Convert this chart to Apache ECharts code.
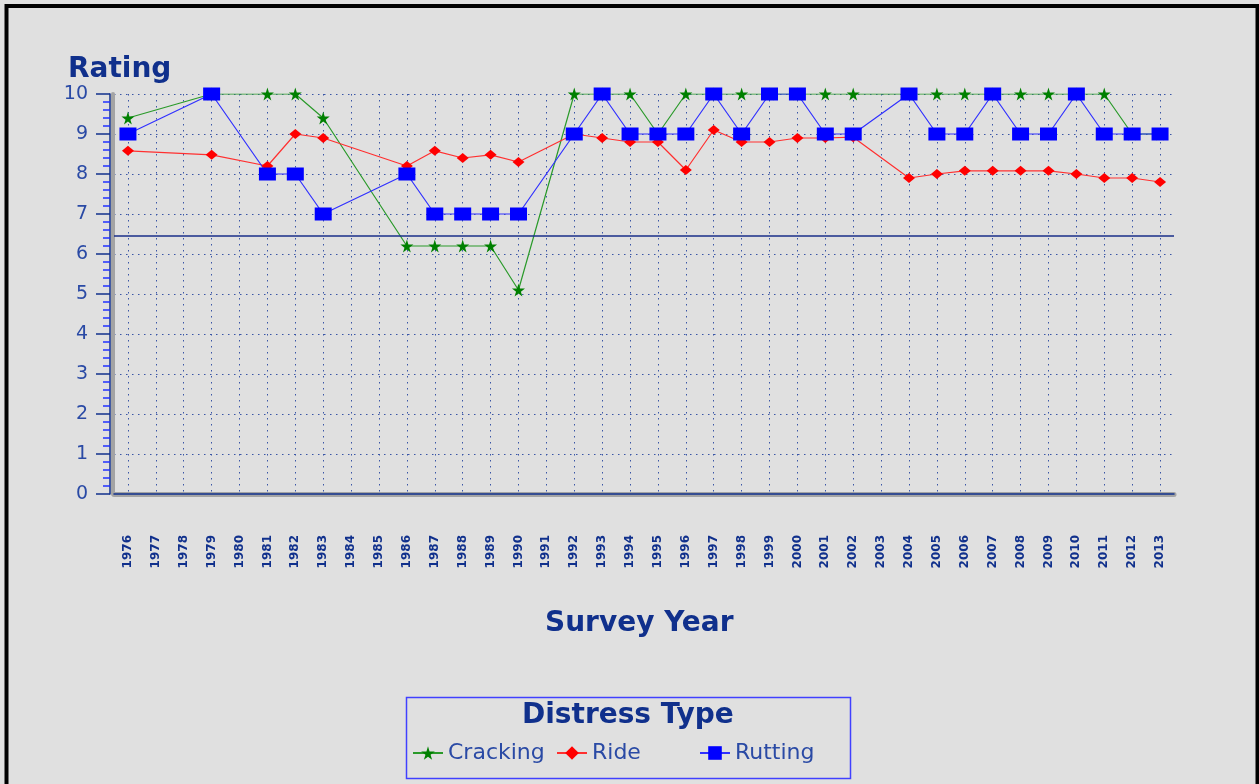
<!DOCTYPE html>
<html>
<head>
<meta charset="utf-8">
<script src="https://cdn.jsdelivr.net/npm/echarts@6/dist/echarts.min.js"></script>
<style>
  html, body { margin: 0; padding: 0; background: #e0e0e0; }
  #chart { width: 1259px; height: 784px; }
</style>
</head>
<body>
<div id="chart"></div>
<script>
// survey years on the x axis
var years = ['1976', '1977', '1978', '1979', '1980', '1981', '1982', '1983', '1984', '1985',
  '1986', '1987', '1988', '1989', '1990', '1991', '1992', '1993', '1994', '1995',
  '1996', '1997', '1998', '1999', '2000', '2001', '2002', '2003', '2004', '2005',
  '2006', '2007', '2008', '2009', '2010', '2011', '2012', '2013'];

// ratings per year, null = no survey that year
var cracking = [9.4, null, null, 10, null, 10, 10, 9.4, null, null,
  6.2, 6.2, 6.2, 6.2, 5.1, null, 10, 10, 10, 9,
  10, 10, 10, 10, 10, 10, 10, null, 10, 10,
  10, 10, 10, 10, 10, 10, 9, 9];
var ride = [8.58, null, null, 8.48, null, 8.2, 9.0, 8.9, null, null,
  8.2, 8.58, 8.4, 8.48, 8.3, null, 9.0, 8.9, 8.8, 8.8,
  8.1, 9.1, 8.8, 8.8, 8.9, 8.9, 8.92, null, 7.9, 8.0,
  8.08, 8.08, 8.08, 8.08, 8.0, 7.9, 7.9, 7.8];
var rutting = [9, null, null, 10, null, 8, 8, 7, null, null,
  8, 7, 7, 7, 7, null, 9, 10, 9, 9,
  9, 10, 9, 10, 10, 9, 9, null, 10, 9,
  9, 10, 9, 9, 10, 9, 9, 9];

var refLine = 6.45;
var yTicks = [0, 10, 1]; // min, max, interval

var navy = '#10308c';
var labelBlue = '#2a4aa5';
var font = 'DejaVu Sans';
var star = 'path://M50,0 L61,35 L98,35 L68,57 L79,91 L50,70 L21,91 L32,57 L2,35 L39,35 Z';

var myChart = echarts.init(document.getElementById('chart'));
var dotted = { color: '#3a56a6', width: 1, type: [1.5, 4.5] };

var option = {
  backgroundColor: '#e0e0e0',
  animation: false,
  title: [
    { text: 'Rating', left: 68, top: 56, padding: 0,
      textStyle: { fontFamily: font, fontSize: 28, fontWeight: 'bold', color: navy } },
    { text: 'Survey Year', left: 545, top: 610, padding: 0,
      textStyle: { fontFamily: font, fontSize: 28, fontWeight: 'bold', color: navy } },
    { text: 'Distress Type', left: 522, top: 702, padding: 0,
      textStyle: { fontFamily: font, fontSize: 28, fontWeight: 'bold', color: navy } }
  ],
  legend: [
    { data: ['Cracking'], left: 412, top: 742 },
    { data: ['Ride'], left: 556, top: 742 },
    { data: ['Rutting'], left: 699, top: 742 }
  ].map(function (l) {
    l.padding = 0;
    l.itemWidth = 30;
    l.itemHeight = 17;
    l.textStyle = { fontFamily: font, fontSize: 22, color: labelBlue };
    return l;
  }),
  graphic: [
    { type: 'rect', shape: { x: 6.5, y: 6, width: 1251, height: 900 },
      style: { fill: 'none', stroke: '#000', lineWidth: 4 }, silent: true },
    { type: 'rect', shape: { x: 406.5, y: 697.5, width: 444, height: 81 },
      style: { fill: 'none', stroke: '#4040ff', lineWidth: 1.5 }, silent: true }
  ],
  grid: { left: 114, top: 94, width: 1060, height: 400, outerBoundsMode: 'none' },
  xAxis: [
    {
      type: 'category', data: years, boundaryGap: true, offset: 4,
      axisLine: { lineStyle: { color: '#a4a4a4', width: 5 } },
      axisTick: { show: false }, axisLabel: { show: false },
      splitLine: { show: true, alignWithLabel: true, interval: 0, lineStyle: dotted }
    },
    {
      type: 'category', data: years, boundaryGap: true, offset: 8, position: 'bottom',
      axisLine: { lineStyle: { color: navy, width: 1.5 } },
      axisTick: { alignWithLabel: true, interval: 0, length: 11, lineStyle: { color: navy, width: 1.5 } },
      axisLabel: { interval: 0, rotate: 90, margin: 33, fontFamily: font, fontSize: 12,
        fontWeight: 'bold', color: navy },
      splitLine: { show: false }
    }
  ],
  yAxis: [
    {
      type: 'value', min: yTicks[0], max: yTicks[1], interval: yTicks[2], offset: 1,
      axisLine: { show: true, lineStyle: { color: '#a4a4a4', width: 4 } },
      axisTick: { show: false }, axisLabel: { show: false },
      splitLine: { show: true, lineStyle: dotted }
    },
    {
      type: 'value', min: yTicks[0], max: yTicks[1], interval: yTicks[2], offset: 4, position: 'left',
      axisLine: { show: true, lineStyle: { color: navy, width: 1.5 } },
      axisTick: { show: true, length: 14, lineStyle: { color: navy, width: 1.5 } },
      minorTick: { show: true, splitNumber: 5, length: 7, lineStyle: { color: '#2030ff', width: 1.5 } },
      axisLabel: { margin: 22, fontFamily: font, fontSize: 19, color: labelBlue },
      splitLine: { show: false }
    }
  ],
  series: [
    {
      name: 'Cracking', type: 'line', data: cracking, connectNulls: true,
      symbol: star, symbolSize: 13,
      itemStyle: { color: '#008000' },
      lineStyle: { color: '#2a9a2a', width: 1.2 },
      markLine: {
        silent: true, symbol: 'none', label: { show: false },
        lineStyle: { color: '#1a2f8a', type: 'solid', width: 1.5 },
        data: [{ yAxis: refLine }]
      }
    },
    {
      name: 'Ride', type: 'line', data: ride, connectNulls: true,
      symbol: 'diamond', symbolSize: [12, 10],
      itemStyle: { color: '#ff0000' },
      lineStyle: { color: '#ff3030', width: 1.2 }
    },
    {
      name: 'Rutting', type: 'line', data: rutting, connectNulls: true,
      symbol: 'rect', symbolSize: [17, 13],
      itemStyle: { color: '#0000ff' },
      lineStyle: { color: '#3030ff', width: 1.2 }
    }
  ]
};
option && myChart.setOption(option);
</script>
</body>
</html>
